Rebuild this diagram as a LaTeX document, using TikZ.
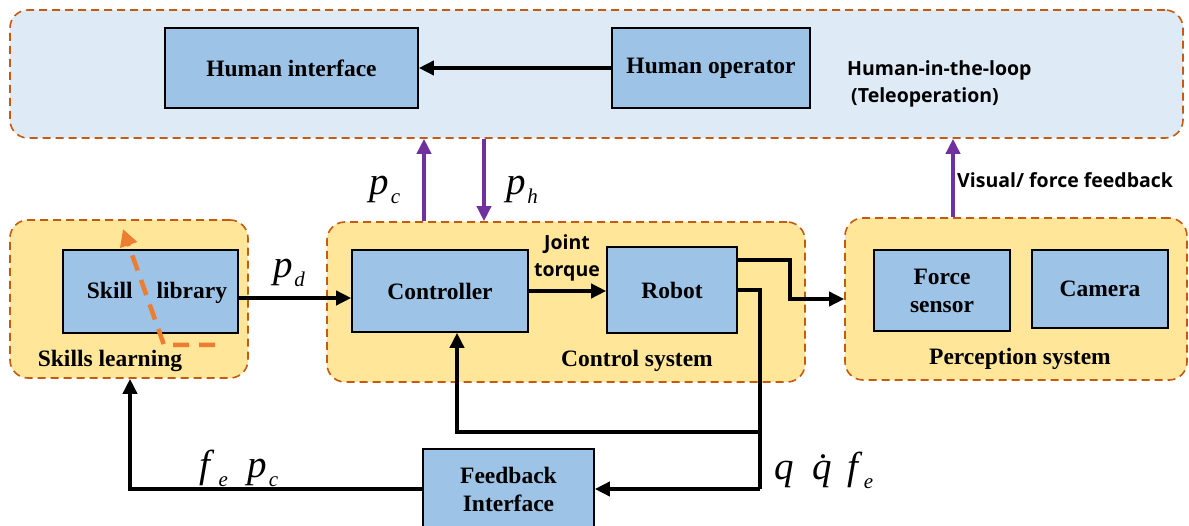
\documentclass[tikz,border=0pt]{standalone}
\usepackage{fontspec}
\setmainfont{Liberation Serif}
\newfontfamily\osans{Open Sans}
\usetikzlibrary{arrows.meta}
\definecolor{boxblue}{HTML}{9DC3E6}
\definecolor{contyel}{HTML}{FFE699}
\definecolor{contblue}{HTML}{DEEAF6}
\definecolor{contedge}{HTML}{C55A11}
\definecolor{purp}{HTML}{7030A0}
\definecolor{orng}{HTML}{ED7D31}
\newcommand{\mvar}[3][1.5pt]{{\itshape #2}\kern#1\raisebox{-9pt}{\fontsize{21}{21}\selectfont\itshape #3}}
\tikzset{
  blk/.style={draw=black, line width=1.6pt, fill=boxblue, inner sep=0pt,
    font=\bfseries\fontsize{23.5}{28}\selectfont, align=center},
  cont/.style={draw=contedge, line width=1.6pt, dash pattern=on 8pt off 5pt,
    rounded corners=18pt, fill=contyel, inner sep=0pt},
  conn/.style={line width=3.6pt, -{Triangle[length=15pt,width=14pt]}},
  plain/.style={line width=3.6pt},
  purpconn/.style={draw=purp, line width=3.6pt, -{Triangle[length=15pt,width=14pt]}},
  lbl/.style={font=\bfseries\fontsize{23.5}{26}\selectfont, inner sep=0pt},
  slbl/.style={font=\osans\bfseries\fontsize{19.5}{27}\selectfont, inner sep=0pt},
  mlbl/.style={font=\fontsize{39}{40}\selectfont, inner sep=0pt},
}
\begin{document}
\begin{tikzpicture}[x=1pt,y=-1pt]
\useasboundingbox (0,0) rectangle (1189,526);
\clip (0,0) rectangle (1189,526);
% containers
\node[cont, fill=contblue, minimum width=1173, minimum height=128] (top) at (596.5,74) {};
\node[cont, minimum width=238, minimum height=158] (skl) at (129,299) {};
\node[cont, minimum width=478, minimum height=160] (ctl) at (566,302) {};
\node[cont, minimum width=342, minimum height=162] (per) at (1016,299) {};
% boxes
\node[blk, minimum width=253, minimum height=80] (hi) at (291.5,68) {Human interface};
\node[blk, minimum width=198, minimum height=80] (ho) at (711,68) {Human operator};
\node[blk, minimum width=175, minimum height=83] (sk) at (150.5,291.5) {};
\node[lbl] (sktext) at (157,293) {Skill\hspace{24pt}library};
\node[blk, minimum width=176, minimum height=82] (ctrl) at (440,291) {Controller};
\node[blk, minimum width=130, minimum height=86] (rob) at (672,290) {Robot};
\node[blk, minimum width=136, minimum height=81] (fs) at (942,290.5) {Force\\sensor};
\node[blk, minimum width=136, minimum height=78] (cam) at (1100,289) {Camera};
\node[blk, minimum width=171, minimum height=80] (fb) at (508.5,489) {Feedback\\Interface};
% container labels
\node[lbl] (sklbl) at (110,361) {Skills learning};
\node[lbl] (ctlbl) at (637,361) {Control system};
\node[lbl] (perlbl) at (1020,359) {Perception system};
\node[slbl, anchor=west, align=left] (hitl) at (847,84) {Human-in-the-loop\\\hspace{4pt}(Teleoperation)};
\node[slbl, align=center] (jt) at (567,258) {Joint\\torque};
\node[slbl, anchor=west] (vff) at (957,180) {Visual/ force feedback};
% math labels
\node[mlbl] (pc) at (385,190) {\mvar{p}{c}};
\node[mlbl] (ph) at (522,190) {\mvar{p}{h}};
\node[mlbl] (pd) at (289,273) {\mvar{p}{d}};
\node[mlbl] (fepc) at (239,468) {\mvar[8pt]{f}{e}\hspace{20pt}\mvar{p}{c}};
\node[mlbl] (qqf) at (824,470) {{\itshape q}\hspace{18pt}{\itshape\.q}\hspace{16pt}\mvar[5pt]{f}{e}};
% coordinates
\coordinate (r1) at (790,260);
\coordinate (r2) at (790,299);
\coordinate (d1) at (760,290);
\coordinate (d2) at (760,432);
\coordinate (d3) at (760,489);
\coordinate (c1) at (457,432);
\coordinate (l1) at (130,489);
% connectors
\draw[conn] (ho.west) -- (hi.east);
\draw[conn] (sk.east |- 0,298) -- (ctrl.west |- 0,298);
\draw[conn] (ctrl.east) -- (ctrl.east -| rob.west);
\draw[conn] (rob.east |- r1) -- (r1) -- (r2) -- (per.west |- r2);
\draw[plain] (rob.east |- d1) -- (d1) -- (d3);
\draw[conn] (d3) -- (fb.east);
\draw[conn] (d2) -- (c1) -- (ctrl.south -| c1);
\draw[conn] (fb.west) -- (l1) -- (skl.south -| l1);
\draw[purpconn] (ctl.north -| 424,0) -- (top.south -| 424,0);
\draw[purpconn] (top.south -| 484,0) -- (ctl.north -| 484,0);
\draw[purpconn] (per.north -| 953,0) -- (top.south -| 953,0);
% orange learning arrow
\coordinate (o1) at (215,345);
\coordinate (o2) at (164,345);
\coordinate (o3) at (123,229);
\draw[draw=orng, line width=4.5pt, dash pattern=on 16pt off 10pt, -{Triangle[length=17pt,width=17pt]}] (o1) -- (o2) -- (o3);
\end{tikzpicture}
\end{document}
